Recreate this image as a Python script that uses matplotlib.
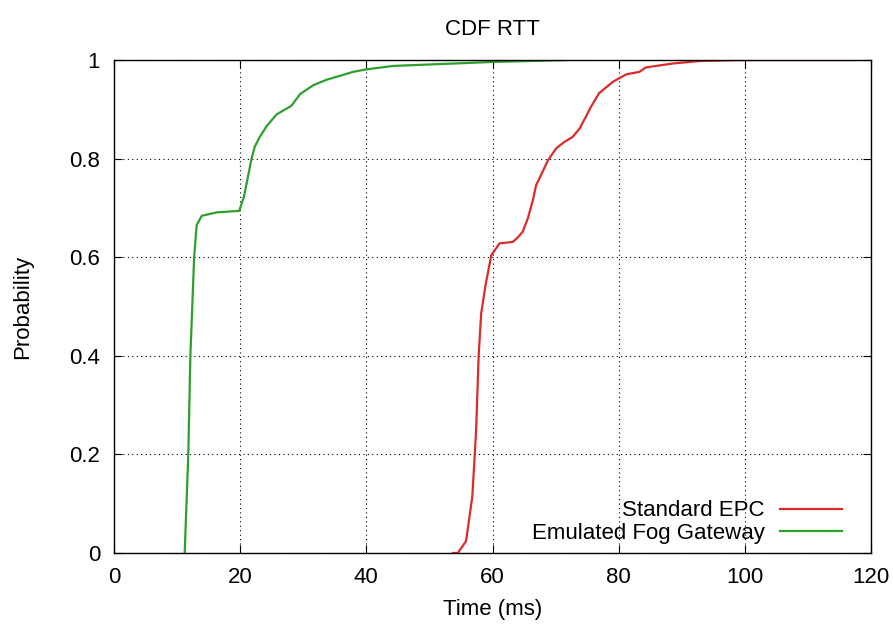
import matplotlib
matplotlib.use("Agg")
import matplotlib.pyplot as plt
import numpy as np

plt.rcParams['font.family'] = ['Liberation Sans', 'DejaVu Sans']

# RTT (ms) / cumulative probability
epc_ms = [53.7, 54.5, 55.8, 56.8, 57.4, 57.8, 58.2, 58.9, 59.8, 61.1, 63.2, 64.0, 64.8,
          65.6, 66.4, 66.9, 67.7, 68.8, 70.1, 71.4, 72.7, 73.8, 74.8, 75.6, 76.9,
          79.1, 81.2, 83.3, 84.3, 88.6, 92.8, 99.6, 117.3]
epc_p = [0.0, 0.0, 0.024, 0.115, 0.25, 0.40, 0.486, 0.544, 0.604, 0.628, 0.631, 0.640, 0.652,
         0.679, 0.716, 0.746, 0.767, 0.797, 0.821, 0.834, 0.844, 0.861, 0.885, 0.905, 0.933,
         0.956, 0.971, 0.976, 0.985, 0.993, 0.998, 1.0, 1.0]

fog_ms = [11.2, 11.77, 12.1, 12.7, 13.1, 13.9, 16.3, 19.85, 20.6, 21.8, 22.3, 23.1, 24.2,
          25.8, 28.1, 29.5, 31.6, 33.7, 37.9, 40.0, 44.2, 59.8, 71.9]
fog_p = [0.0, 0.2, 0.4, 0.6, 0.665, 0.684, 0.691, 0.694, 0.723, 0.80, 0.824, 0.844, 0.866,
         0.89, 0.907, 0.931, 0.949, 0.960, 0.976, 0.981, 0.988, 0.996, 1.0]

fs = 16

fig = plt.figure(figsize=(8.93, 6.24), dpi=100)
ax = fig.add_axes([0.1277, 0.1138, 0.8477, 0.79])

ax.plot(epc_ms, epc_p, color='#dd2a2a', lw=1.6, label='Standard EPC')
ax.plot(fog_ms, fog_p, color='#2ca02c', lw=1.6, label='Emulated Fog Gateway')

ax.set_xlim(0, 120)
ax.set_ylim(0, 1)
ax.set_xticks(np.arange(0, 121, 20))
ax.set_yticks([0, 0.2, 0.4, 0.6, 0.8, 1])
ax.set_yticklabels(['0', '0.2', '0.4', '0.6', '0.8', '1'])
ax.tick_params(direction='in', top=True, right=True, labelsize=fs, length=6, pad=10)
ax.grid(True, color='black', linestyle=(0, (1, 3)), linewidth=0.8)
for s in ax.spines.values():
    s.set_linewidth(1.0)

ax.set_title('CDF RTT', fontsize=fs, pad=18)
ax.set_xlabel('Time (ms)', fontsize=fs, labelpad=8)
ax.set_ylabel('Probability', fontsize=fs, labelpad=26)

ax.legend(loc='lower right', bbox_to_anchor=(0.974, 0.0), frameon=False, markerfirst=False,
          fontsize=fs, handlelength=2.8, labelspacing=0.08, borderaxespad=0,
          borderpad=0.4, handletextpad=0.7)

fig.savefig('out.png', dpi=100)
